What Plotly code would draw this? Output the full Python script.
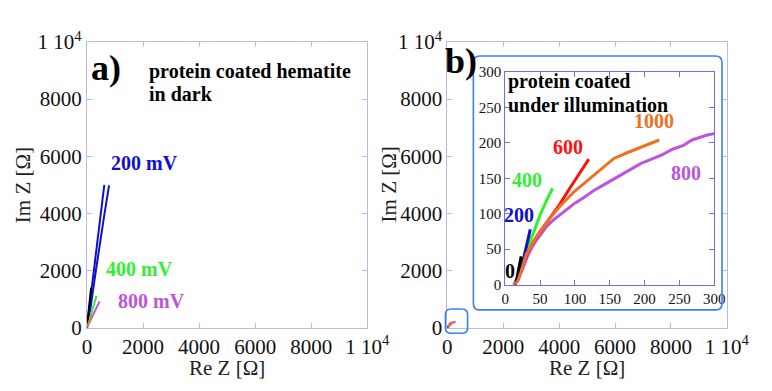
import plotly.graph_objects as go

# ---- data: panel a (dark) ----
a_blue1_x = [0, 100, 230, 360, 490, 620]
a_blue1_y = [0, 800, 1900, 2950, 4000, 5000]
a_blue2_x = [0, 130, 290, 450, 620, 790]
a_blue2_y = [0, 700, 1800, 2900, 3950, 4980]
a_black_x = [0, 40, 90, 150]
a_black_y = [0, 400, 900, 1400]
a_green_x = [0, 100, 200, 345]
a_green_y = [0, 350, 700, 1115]
a_purple_x = [0, 150, 300, 450]
a_purple_y = [0, 300, 600, 920]
a_orange_x = [0, 80, 170]
a_orange_y = [0, 220, 450]
a_red_x = [0, 20]
a_red_y = [0, 40]

# ---- data: panel b (illumination) ----
b0_x = [14, 17, 20, 23]
b0_y = [0, 10, 25, 40]
b200_x = [14, 20, 26, 31, 36]
b200_y = [0, 15, 35, 56, 78]
b400_x = [13, 18, 25, 33, 42, 50, 59, 68]
b400_y = [0, 8, 30, 55, 77, 98, 118, 136]
b600_x = [13, 18, 25, 35, 48, 62, 78, 92, 106, 120]
b600_y = [0, 8, 28, 52, 72, 92, 113, 135, 156, 177]
b800_x = [12, 18, 25, 32, 38, 45, 52, 59, 70, 84, 100, 113, 126, 140, 156, 170, 183, 195, 210, 225, 240, 255, 268, 280, 290, 300]
b800_y = [0, 6, 22, 40, 52, 63, 72, 82, 92, 103, 115, 123, 132, 140, 149, 156, 164, 171, 177, 183, 191, 196, 204, 208, 211, 213]
b1000_x = [12, 18, 24, 30, 40, 50, 65, 80, 100, 120, 140, 156, 175, 195, 221]
b1000_y = [0, 5, 22, 42, 60, 75, 95, 112, 132, 148, 164, 178, 186, 194, 204]

x_ticks = [0, 2000, 4000, 6000, 8000, 10000]
x_ticktext = ["0", "2000", "4000", "6000", "8000", "1 10<sup>4</sup>"]
inset_ticks = [0, 50, 100, 150, 200, 250, 300]

BLUE = "#1010CC"
GREEN = "#33EE33"
PURPLE = "#BB55DD"
ORANGE = "#F07020"
RED = "#FF1010"
BLACK = "#000000"
SERIF = "Liberation Serif"
FRAME = "#B8B8F0"
W, H = 772, 391

def px(x):
    return x / W

def py(y):
    return 1 - y / H

fig = go.Figure()

def add(x, y, color, xa, ya, width):
    fig.add_trace(go.Scatter(x=x, y=y, mode="lines", line=dict(color=color, width=width),
                             xaxis=xa, yaxis=ya, showlegend=False, hoverinfo="skip"))

# panel a
add(a_blue1_x, a_blue1_y, BLUE, "x", "y", 2)
add(a_blue2_x, a_blue2_y, BLUE, "x", "y", 2)
add(a_green_x, a_green_y, GREEN, "x", "y", 2)
add(a_purple_x, a_purple_y, PURPLE, "x", "y", 2)
add(a_black_x, a_black_y, BLACK, "x", "y", 2)
add(a_orange_x, a_orange_y, "#D09020", "x", "y", 2)
add(a_red_x, a_red_y, RED, "x", "y", 2)

# panel b main and inset
series_b = [(b800_x, b800_y, PURPLE), (b600_x, b600_y, RED), (b400_x, b400_y, GREEN),
            (b200_x, b200_y, BLUE), (b0_x, b0_y, BLACK), (b1000_x, b1000_y, ORANGE)]
for sx, sy, c in series_b:
    add(sx, sy, c, "x2", "y2", 2)
for sx, sy, c in series_b:
    add(sx, sy, c, "x3", "y3", 3)

ydom = [py(336), py(30)]
main_axis = dict(range=[0, 10000], showgrid=False, zeroline=False, showline=True, linecolor=FRAME,
                 linewidth=1, mirror="allticks", ticks="inside", ticklen=5, tickcolor=FRAME,
                 tickfont=dict(family=SERIF, size=21, color="#111"))
inset_axis = dict(range=[0, 300], showgrid=False, zeroline=False, showline=True, linecolor="#6E6EEE",
                  linewidth=1, mirror="allticks", ticks="inside", ticklen=5, tickcolor="#6E6EEE",
                  tickvals=inset_ticks, tickfont=dict(family=SERIF, size=15, color="#111"))

fig.update_layout(
    width=W, height=H, margin=dict(l=0, r=0, t=0, b=0),
    paper_bgcolor="white", plot_bgcolor="rgba(0,0,0,0)",
    xaxis=dict(domain=[px(85), px(376)], anchor="y", tickvals=x_ticks, ticktext=x_ticktext, **main_axis),
    yaxis=dict(domain=ydom, anchor="x", tickvals=x_ticks, ticktext=x_ticktext, **main_axis),
    xaxis2=dict(domain=[px(459), px(749)], anchor="y2", tickvals=x_ticks, ticktext=x_ticktext, **main_axis),
    yaxis2=dict(domain=ydom, anchor="x2", tickvals=x_ticks, ticktext=x_ticktext, **main_axis),
    xaxis3=dict(domain=[px(519), px(736)], anchor="y3", **inset_axis),
    yaxis3=dict(domain=[py(290), py(62)], anchor="x3", **inset_axis),
)

def rounded(x0, y0, x1, y1, r):
    # pixel coords -> paper path
    def P(x, y):
        return f"{px(x):.5f},{py(y):.5f}"
    return (f"M{P(x0 + r, y0)} L{P(x1 - r, y0)} Q{P(x1, y0)} {P(x1, y0 + r)} "
            f"L{P(x1, y1 - r)} Q{P(x1, y1)} {P(x1 - r, y1)} L{P(x0 + r, y1)} "
            f"Q{P(x0, y1)} {P(x0, y1 - r)} L{P(x0, y0 + r)} Q{P(x0, y0)} {P(x0 + r, y0)} Z")

fig.add_shape(type="path", xref="paper", yref="paper", path=rounded(486, 45, 744, 317, 7),
              line=dict(color="#3C80EE", width=1.6))
fig.add_shape(type="path", xref="paper", yref="paper", path=rounded(457, 316, 480, 342, 6),
              line=dict(color="#3C80EE", width=1.6))

def ann(text, x, y, size, color, xanchor="center", angle=0, bold=True):
    t = f"<b>{text}</b>" if bold else text
    fig.add_annotation(text=t, x=px(x), y=py(y), xref="paper", yref="paper", showarrow=False,
                       xanchor=xanchor, yanchor="middle", textangle=angle,
                       font=dict(family=SERIF, size=size, color=color))

# axis titles
ann("Re Z [Ω]", 230, 379, 21, "#222", bold=False)
ann("Re Z [Ω]", 604, 379, 21, "#222", bold=False)
ann("Im Z [Ω]", 19, 183, 21, "#222", angle=-90, bold=False)
ann("Im Z [Ω]", 398, 183, 21, "#222", angle=-90, bold=False)

# panel a labels
ann("a)", 105, 58, 36, BLACK)
ann("protein coated hematite", 147, 62, 20, BLACK, xanchor="left")
ann("in dark", 147, 86, 20, BLACK, xanchor="left")
ann("200 mV", 145, 160, 20, BLUE)
ann("400 mV", 140, 273, 20, GREEN)
ann("800 mV", 152, 307, 20, PURPLE)

# panel b labels
ann("b)", 473, 50, 36, BLACK)
ann("protein coated", 520, 72, 20, BLACK, xanchor="left")
ann("under illumination", 520, 97, 20, BLACK, xanchor="left")
ann("1000", 673, 115, 20, ORANGE)
ann("600", 584, 142, 20, RED)
ann("400", 542, 178, 20, GREEN)
ann("200", 533, 215, 20, BLUE)
ann("800", 707, 170, 20, PURPLE)
ann("0", 524, 275, 20, BLACK)

fig.write_html("out.html")
